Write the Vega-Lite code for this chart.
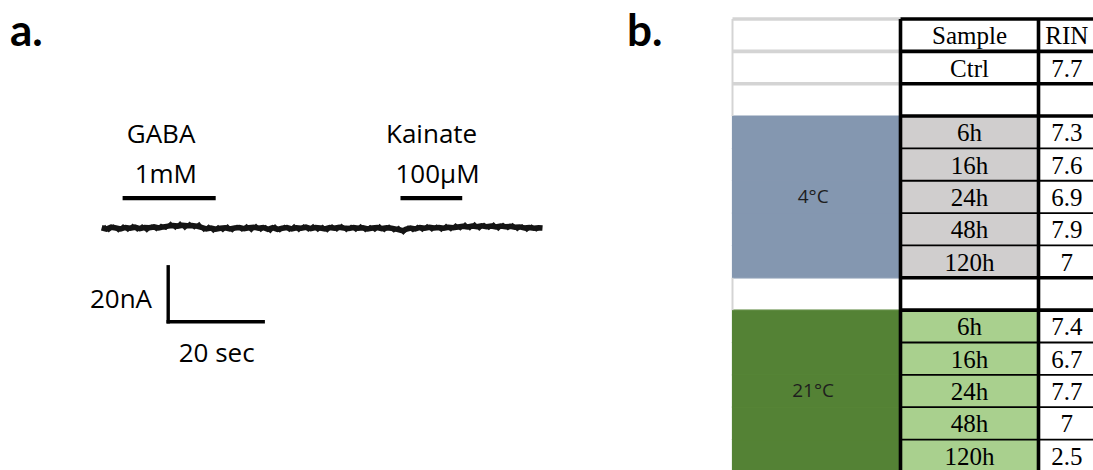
{
  "$schema": "https://vega.github.io/schema/vega-lite/v6.json",
  "width": 1093,
  "height": 470,
  "autosize": {"type": "none"},
  "padding": 0,
  "background": "white",
  "config": {"view": {"stroke": null}},
  "datasets": {
    "trace": [
      {"t":0,"i":0.2},{"t":1,"i":-0.3},{"t":2,"i":0.4},{"t":3,"i":0.1},{"t":4,"i":-0.2},{"t":5,"i":0.3},{"t":6,"i":0.0},{"t":7,"i":0.4},{"t":8,"i":-0.1},{"t":9,"i":0.3},
      {"t":10,"i":0.2},{"t":11,"i":0.5},{"t":12,"i":0.1},{"t":13,"i":0.5},{"t":14,"i":0.8},{"t":15,"i":1.0},{"t":16,"i":0.8},{"t":17,"i":1.1},{"t":18,"i":0.9},{"t":19,"i":1.0},
      {"t":20,"i":0.8},{"t":21,"i":0.3},{"t":22,"i":-0.2},{"t":23,"i":0.1},{"t":24,"i":-0.3},{"t":25,"i":0.0},{"t":26,"i":0.2},{"t":27,"i":-0.2},{"t":28,"i":0.1},{"t":29,"i":0.3},
      {"t":30,"i":-0.1},{"t":31,"i":0.2},{"t":32,"i":0.4},{"t":33,"i":0.0},{"t":34,"i":0.3},{"t":35,"i":-0.4},{"t":36,"i":0.2},{"t":37,"i":-0.4},{"t":38,"i":0.0},{"t":39,"i":0.3},
      {"t":40,"i":-0.2},{"t":41,"i":0.2},{"t":42,"i":0.0},{"t":43,"i":0.4},{"t":44,"i":-0.1},{"t":45,"i":0.3},{"t":46,"i":0.1},{"t":47,"i":-0.2},{"t":48,"i":0.3},{"t":49,"i":0.0},
      {"t":50,"i":0.4},{"t":51,"i":0.1},{"t":52,"i":-0.1},{"t":53,"i":0.3},{"t":54,"i":0.0},{"t":55,"i":0.2},{"t":56,"i":-0.2},{"t":57,"i":0.1},{"t":58,"i":0.3},{"t":59,"i":-0.1},
      {"t":60,"i":0.2},{"t":61,"i":0.0},{"t":62,"i":-0.3},{"t":63,"i":-0.7},{"t":63.5,"i":-0.9},{"t":64,"i":-0.4},{"t":65,"i":0.1},{"t":66,"i":-0.2},{"t":67,"i":0.3},{"t":68,"i":0.0},{"t":69,"i":0.4},
      {"t":70,"i":0.1},{"t":71,"i":0.3},{"t":72,"i":0.0},{"t":73,"i":0.4},{"t":74,"i":0.2},{"t":75,"i":0.5},{"t":76,"i":0.7},{"t":77,"i":0.5},{"t":78,"i":0.8},{"t":79,"i":0.6},
      {"t":80,"i":0.9},{"t":81,"i":0.6},{"t":82,"i":0.8},{"t":83,"i":0.5},{"t":84,"i":0.8},{"t":85,"i":0.6},{"t":86,"i":0.7},{"t":87,"i":0.4},{"t":88,"i":0.5},{"t":89,"i":0.1},
      {"t":90,"i":0.3},{"t":91,"i":0.0},{"t":92,"i":0.2},{"t":92.8,"i":0.1}
    ],
    "fuzz": [
      {"t":0.5,"i":0.9},{"t":1.5,"i":-0.8},{"t":2.5,"i":0.7},{"t":3.5,"i":-0.9},{"t":4.5,"i":0.8},{"t":5.5,"i":-0.7},{"t":6.5,"i":1.0},{"t":7.5,"i":-0.6},{"t":8.5,"i":0.8},{"t":9.5,"i":-0.9},
      {"t":10.5,"i":0.7},{"t":11.5,"i":-0.5},{"t":12.5,"i":1.1},{"t":13.5,"i":0.0},{"t":14.5,"i":1.8},{"t":15.5,"i":0.1},{"t":16.5,"i":1.9},{"t":17.5,"i":0.0},{"t":18.5,"i":1.7},{"t":19.5,"i":0.2},
      {"t":20.5,"i":1.6},{"t":21.5,"i":-0.7},{"t":22.5,"i":0.7},{"t":23.5,"i":-1.0},{"t":24.5,"i":0.6},{"t":25.5,"i":-0.8},{"t":26.5,"i":0.8},{"t":27.5,"i":-0.9},{"t":28.5,"i":0.7},{"t":29.5,"i":-0.6},
      {"t":30.5,"i":0.9},{"t":31.5,"i":-0.8},{"t":32.5,"i":1.0},{"t":33.5,"i":-0.7},{"t":34.5,"i":0.6},{"t":35.5,"i":-1.1},{"t":36.5,"i":0.8},{"t":37.5,"i":-0.9},{"t":38.5,"i":0.7},{"t":39.5,"i":-0.7},
      {"t":40.5,"i":0.9},{"t":41.5,"i":-0.8},{"t":42.5,"i":0.8},{"t":43.5,"i":-0.6},{"t":44.5,"i":0.9},{"t":45.5,"i":-0.7},{"t":46.5,"i":0.7},{"t":47.5,"i":-0.9},{"t":48.5,"i":0.8},{"t":49.5,"i":-0.6},
      {"t":50.5,"i":1.0},{"t":51.5,"i":-0.8},{"t":52.5,"i":0.7},{"t":53.5,"i":-0.7},{"t":54.5,"i":0.9},{"t":55.5,"i":-0.8},{"t":56.5,"i":0.6},{"t":57.5,"i":-0.7},{"t":58.5,"i":0.9},{"t":59.5,"i":-0.8},
      {"t":60.5,"i":0.7},{"t":61.5,"i":-0.9},{"t":62.5,"i":0.3},{"t":63.5,"i":-1.6},{"t":64.5,"i":0.4},{"t":65.5,"i":-0.8},{"t":66.5,"i":0.7},{"t":67.5,"i":-0.7},{"t":68.5,"i":0.9},{"t":69.5,"i":-0.6},
      {"t":70.5,"i":0.8},{"t":71.5,"i":-0.7},{"t":72.5,"i":1.0},{"t":73.5,"i":-0.5},{"t":74.5,"i":1.2},{"t":75.5,"i":-0.2},{"t":76.5,"i":1.5},{"t":77.5,"i":-0.1},{"t":78.5,"i":1.6},{"t":79.5,"i":-0.2},
      {"t":80.5,"i":1.4},{"t":81.5,"i":0.0},{"t":82.5,"i":1.5},{"t":83.5,"i":-0.3},{"t":84.5,"i":1.4},{"t":85.5,"i":-0.1},{"t":86.5,"i":1.3},{"t":87.5,"i":-0.4},{"t":88.5,"i":0.9},{"t":89.5,"i":-0.7},
      {"t":90.5,"i":0.8},{"t":91.5,"i":-0.6},{"t":92.5,"i":0.4}
    ],
    "bars": [
      {"drug":"GABA","t0":4.4,"t1":24.0,"i":11},
      {"drug":"Kainate","t0":62.9,"t1":75.9,"i":11}
    ],
    "scalebar": [
      {"part":"current","t0":14.0,"t1":14.0,"i0":-14,"i1":-34},
      {"part":"time","t0":14.0,"t1":34.0,"i0":-34,"i1":-34}
    ],
    "labels": [
      {"kind":"panel","text":"a.","t":-19.3,"i":66.3},
      {"kind":"panel","text":"b.","t":110.6,"i":66.3},
      {"kind":"center","text":"GABA","t":12.5,"i":31.0},
      {"kind":"center","text":"1mM","t":13.5,"i":16.4},
      {"kind":"center","text":"Kainate","t":69.45,"i":31.0},
      {"kind":"center","text":"100µM","t":70.7,"i":16.4},
      {"kind":"center","text":"20 sec","t":24.2,"i":-48.6},
      {"kind":"right","text":"20nA","t":10.6,"i":-29.0}
    ],
    "cells": [
      {"r":0,"sample":"Sample","rin":"RIN","grp":"header","glabel":""},
      {"r":1,"sample":"Ctrl","rin":"7.7","grp":"ctrl","glabel":""},
      {"r":2,"sample":"","rin":"","grp":"blank","glabel":""},
      {"r":3,"sample":"6h","rin":"7.3","grp":"cold","glabel":""},
      {"r":4,"sample":"16h","rin":"7.6","grp":"cold","glabel":""},
      {"r":5,"sample":"24h","rin":"6.9","grp":"cold","glabel":"4°C"},
      {"r":6,"sample":"48h","rin":"7.9","grp":"cold","glabel":""},
      {"r":7,"sample":"120h","rin":"7","grp":"cold","glabel":""},
      {"r":8,"sample":"","rin":"","grp":"blank","glabel":""},
      {"r":9,"sample":"6h","rin":"7.4","grp":"warm","glabel":""},
      {"r":10,"sample":"16h","rin":"6.7","grp":"warm","glabel":""},
      {"r":11,"sample":"24h","rin":"7.7","grp":"warm","glabel":"21°C"},
      {"r":12,"sample":"48h","rin":"7","grp":"warm","glabel":""},
      {"r":13,"sample":"120h","rin":"2.5","grp":"warm","glabel":""}
    ],
    "lines": [
      {"dir":"h","kind":"gray","at":0,"from":0,"to":1},
      {"dir":"h","kind":"gray","at":1,"from":0,"to":1},
      {"dir":"h","kind":"gray","at":2,"from":0,"to":1},
      {"dir":"v","kind":"gray","at":0,"from":0,"to":3},
      {"dir":"v","kind":"gray","at":0,"from":8,"to":9},
      {"dir":"h","kind":"thin","at":4,"from":1,"to":3},
      {"dir":"h","kind":"thin","at":5,"from":1,"to":3},
      {"dir":"h","kind":"thin","at":6,"from":1,"to":3},
      {"dir":"h","kind":"thin","at":7,"from":1,"to":3},
      {"dir":"h","kind":"thin","at":10,"from":1,"to":3},
      {"dir":"h","kind":"thin","at":11,"from":1,"to":3},
      {"dir":"h","kind":"thin","at":12,"from":1,"to":3},
      {"dir":"h","kind":"thin","at":13,"from":1,"to":3},
      {"dir":"h","kind":"thick","at":0,"from":1,"to":3},
      {"dir":"h","kind":"thick","at":1,"from":1,"to":3},
      {"dir":"h","kind":"thick","at":2,"from":1,"to":3},
      {"dir":"h","kind":"thick","at":3,"from":1,"to":3},
      {"dir":"h","kind":"thick","at":8,"from":1,"to":3},
      {"dir":"h","kind":"thick","at":9,"from":1,"to":3},
      {"dir":"v","kind":"thick","at":1,"from":0,"to":14},
      {"dir":"v","kind":"thick","at":2,"from":0,"to":14}
    ]
  },
  "layer": [
    {
      "layer": [
        {
          "data": {"name": "fuzz"},
          "mark": {"type": "line", "strokeWidth": 3, "color": "#1a1a1a"},
          "encoding": {
            "x": {"field": "t", "type": "quantitative", "scale": {"domain": [-21.41, 208.69], "nice": false, "zero": false}, "axis": null},
            "y": {"field": "i", "type": "quantitative", "scale": {"domain": [-87.89, 83.02], "nice": false, "zero": false}, "axis": null}
          }
        },
        {
          "data": {"name": "trace"},
          "mark": {"type": "line", "strokeWidth": 5.5, "color": "#141414"},
          "encoding": {
            "x": {"field": "t", "type": "quantitative"},
            "y": {"field": "i", "type": "quantitative"}
          }
        },
        {
          "data": {"name": "bars"},
          "mark": {"type": "rule", "strokeWidth": 4.2, "color": "#000000"},
          "encoding": {
            "x": {"field": "t0", "type": "quantitative"},
            "x2": {"field": "t1"},
            "y": {"field": "i", "type": "quantitative"}
          }
        },
        {
          "data": {"name": "scalebar"},
          "mark": {"type": "rule", "strokeWidth": 3.4, "strokeCap": "square", "color": "#000000"},
          "encoding": {
            "x": {"field": "t0", "type": "quantitative"},
            "x2": {"field": "t1"},
            "y": {"field": "i0", "type": "quantitative"},
            "y2": {"field": "i1"}
          }
        },
        {
          "data": {"name": "labels"},
          "transform": [{"filter": "datum.kind === 'panel'"}],
          "mark": {"type": "text", "font": "Lato", "fontWeight": "bold", "fontSize": 44, "align": "left", "baseline": "alphabetic", "color": "#000000"},
          "encoding": {
            "x": {"field": "t", "type": "quantitative"},
            "y": {"field": "i", "type": "quantitative"},
            "text": {"field": "text"}
          }
        },
        {
          "data": {"name": "labels"},
          "transform": [{"filter": "datum.kind === 'center'"}],
          "mark": {"type": "text", "font": "Open Sans", "fontSize": 26, "align": "center", "baseline": "alphabetic", "color": "#000000"},
          "encoding": {
            "x": {"field": "t", "type": "quantitative"},
            "y": {"field": "i", "type": "quantitative"},
            "text": {"field": "text"}
          }
        },
        {
          "data": {"name": "labels"},
          "transform": [{"filter": "datum.kind === 'right'"}],
          "mark": {"type": "text", "font": "Open Sans", "fontSize": 26, "align": "right", "baseline": "alphabetic", "color": "#000000"},
          "encoding": {
            "x": {"field": "t", "type": "quantitative"},
            "y": {"field": "i", "type": "quantitative"},
            "text": {"field": "text"}
          }
        }
      ]
    },
    {
      "layer": [
        {
          "data": {"name": "cells"},
          "layer": [
            {
              "transform": [{"filter": "datum.grp === 'cold' || datum.grp === 'warm'"}],
              "mark": {"type": "rect", "strokeWidth": 1.2},
              "encoding": {
                "x": {"datum": 0, "type": "quantitative", "scale": {"type": "linear", "domain": [0, 1, 2, 3], "range": [732.5, 900.5, 1038.5, 1095], "nice": false, "zero": false}, "axis": null},
                "x2": {"datum": 1},
                "y": {"field": "r", "type": "ordinal", "scale": {"type": "band", "domain": [0,1,2,3,4,5,6,7,8,9,10,11,12,13], "range": [19, 471.9], "paddingInner": 0, "paddingOuter": 0}, "axis": null},
                "fill": {"condition": {"test": "datum.grp === 'cold'", "value": "#8497b0"}, "value": "#548235"},
                "stroke": {"condition": {"test": "datum.grp === 'cold'", "value": "#8497b0"}, "value": "#548235"}
              }
            },
            {
              "transform": [{"filter": "datum.grp === 'cold' || datum.grp === 'warm'"}],
              "mark": {"type": "rect", "strokeWidth": 1.2},
              "encoding": {
                "x": {"datum": 1, "type": "quantitative"},
                "x2": {"datum": 2},
                "y": {"field": "r", "type": "ordinal"},
                "fill": {"condition": {"test": "datum.grp === 'cold'", "value": "#d0cece"}, "value": "#a9d08e"},
                "stroke": {"condition": {"test": "datum.grp === 'cold'", "value": "#d0cece"}, "value": "#a9d08e"}
              }
            },
            {
              "mark": {"type": "text", "font": "Liberation Serif", "fontSize": 25, "align": "center", "baseline": "middle", "dy": 1, "color": "#000000"},
              "encoding": {
                "x": {"datum": 1.5, "type": "quantitative"},
                "y": {"field": "r", "type": "ordinal"},
                "text": {"field": "sample"}
              }
            },
            {
              "mark": {"type": "text", "font": "Liberation Serif", "fontSize": 25, "align": "center", "baseline": "middle", "dy": 1, "color": "#000000"},
              "encoding": {
                "x": {"datum": 2.5, "type": "quantitative"},
                "y": {"field": "r", "type": "ordinal"},
                "text": {"field": "rin"}
              }
            },
            {
              "transform": [{"filter": "datum.glabel !== ''"}],
              "mark": {"type": "text", "font": "Open Sans", "fontSize": 19, "align": "center", "baseline": "middle", "color": "#1e1e1e"},
              "encoding": {
                "x": {"datum": 0.48, "type": "quantitative"},
                "y": {"field": "r", "type": "ordinal"},
                "text": {"field": "glabel"}
              }
            }
          ]
        },
        {
          "data": {"name": "lines"},
          "layer": [
            {
              "transform": [{"filter": "datum.dir === 'h'"}],
              "mark": {"type": "rule"},
              "encoding": {
                "x": {"field": "from", "type": "quantitative"},
                "x2": {"field": "to"},
                "y": {"field": "at", "type": "quantitative", "scale": {"domain": [0, 14], "range": [19, 471.9], "nice": false, "zero": false}, "axis": null},
                "color": {"condition": {"test": "datum.kind === 'gray'", "value": "#d4d4d4"}, "value": "#000000"},
                "strokeWidth": {"condition": {"test": "datum.kind === 'thin'", "value": 1.8}, "value": 3.6}
              }
            },
            {
              "transform": [{"filter": "datum.dir === 'v'"}],
              "mark": {"type": "rule"},
              "encoding": {
                "x": {"field": "at", "type": "quantitative"},
                "y": {"field": "from", "type": "quantitative"},
                "y2": {"field": "to"},
                "color": {"condition": {"test": "datum.kind === 'gray'", "value": "#d4d4d4"}, "value": "#000000"},
                "strokeWidth": {"condition": {"test": "datum.kind === 'gray'", "value": 2}, "value": 3.6}
              }
            }
          ]
        }
      ],
      "resolve": {"scale": {"y": "independent"}}
    }
  ],
  "resolve": {"scale": {"x": "independent", "y": "independent"}}
}
